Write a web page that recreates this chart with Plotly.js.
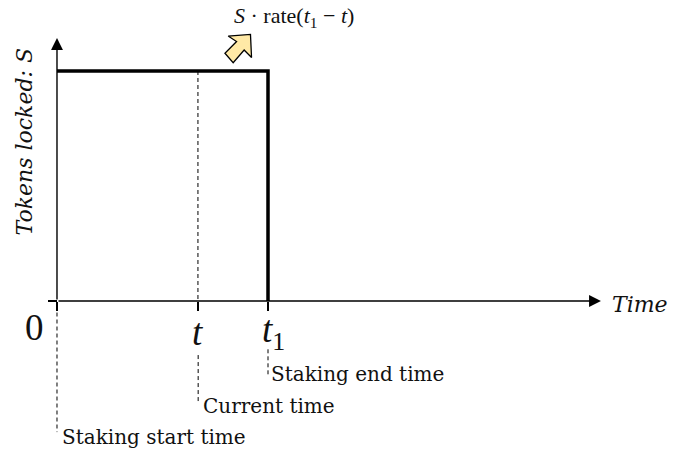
<!DOCTYPE html>
<html>
<head>
<meta charset="utf-8">
<script src="https://cdn.plot.ly/plotly-3.0.1.min.js"></script>
<style>html,body{margin:0;padding:0;background:#fff}</style>
</head>
<body>
<div id="plot" style="width:686px;height:449px"></div>
<script>
// time axis: t1 = 1, tokens axis: S = 1
var tCurrent = 0.668;
var tEnd = 1;
var stakeX = [0, tEnd, tEnd];
var stakeY = [1, 1, 0];
var tickVals = [0, tCurrent, tEnd];
var currentX = [tCurrent, tCurrent];
var currentY = [1, 0];
var leaderStartX = [0, 0];
var leaderStartY = [-0.05, -0.57];
var leaderCurrentX = [tCurrent + 0.001, tCurrent + 0.001];
var leaderCurrentY = [-0.235, -0.44];
var leaderEndX = [tEnd, tEnd];
var leaderEndY = [-0.21, -0.32];
var growX = [0.811, 0.917, 0.922, 0.887, 0.835, 0.796, 0.851];
var growY = [1.152, 1.159, 1.059, 1.091, 1.036, 1.077, 1.128];

var serif = 'DejaVu Serif';
var mathFont = 'Liberation Serif';

function leader(x, y, dash, width) {
  return {
    x: x, y: y, type: 'scatter', mode: 'lines', cliponaxis: false,
    hoverinfo: 'skip',
    line: {color: '#000', width: width, dash: dash}
  };
}

var traces = [
  leader(currentX, currentY, '4px,3px', 1),
  leader(leaderStartX, leaderStartY, '4px,3px', 1),
  leader(leaderCurrentX, leaderCurrentY, '4px,3px', 1),
  leader(leaderEndX, leaderEndY, '4px,3px', 1),
  leader(stakeX, stakeY, 'solid', 3.5),
  {
    x: growX.concat(growX[0]), y: growY.concat(growY[0]),
    type: 'scatter', mode: 'lines', fill: 'toself', fillcolor: '#ffe9a6',
    cliponaxis: false, hoverinfo: 'skip',
    line: {color: '#000', width: 1.3}
  }
];

function label(x, y, text, size, font, anchor, extra) {
  return Object.assign({
    x: x, y: y, xref: 'x', yref: 'y', text: text, showarrow: false,
    xanchor: anchor, yanchor: 'middle',
    font: {family: font, size: size, color: '#111'}
  }, extra || {});
}

function axisArrow(x, y) {
  return {
    x: x, y: y, ax: 0, ay: 0, axref: 'x', ayref: 'y', xref: 'x', yref: 'y',
    text: '', showarrow: true, arrowhead: 2, arrowsize: 1.7, arrowwidth: 1.4, arrowcolor: '#000'
  };
}

var annotations = [
  axisArrow(2.578, 0),
  axisArrow(0, 1.1435),
  label(-0.105, -0.115, '0', 37, mathFont, 'center'),
  label(tCurrent, -0.135, '<i>t</i>', 37, mathFont, 'center'),
  label(1.025, -0.135, '<i>t</i><sub>1</sub>', 37, mathFont, 'center'),
  label(2.763, -0.017, '<i>Time</i>', 22, serif, 'center'),
  label(1.0028, -0.317, 'Staking end time', 20, serif, 'left'),
  label(0.6806, -0.457, 'Current time', 20, serif, 'left'),
  label(0.0123, -0.591, 'Staking start time', 20, serif, 'left'),
  label(0.83, 1.235, '<i>S</i> · rate(<i>t</i><sub>1</sub> − <i>t</i>)', 22, mathFont, 'left'),
  label(-0.152, 0.693, '<i>Tokens locked: S</i>', 22, serif, 'center', {textangle: -90})
];

var layout = {
  width: 686,
  height: 449,
  margin: {l: 0, r: 0, t: 0, b: 0},
  paper_bgcolor: '#fff',
  plot_bgcolor: '#fff',
  showlegend: false,
  xaxis: {
    range: [-0.2701, 2.981], anchor: 'free', position: 0.3296,
    tickmode: 'array', tickvals: tickVals, showticklabels: false,
    ticks: 'outside', ticklen: 9, tickwidth: 1.3, tickcolor: '#000',
    showgrid: false, zeroline: false, showline: false, fixedrange: true
  },
  yaxis: {
    range: [-0.6435, 1.3087], anchor: 'free', position: 0.0831,
    tickmode: 'array', tickvals: [0], showticklabels: false,
    ticks: 'outside', ticklen: 9, tickwidth: 1.3, tickcolor: '#000',
    showgrid: false, zeroline: false, showline: false, fixedrange: true
  },
  annotations: annotations
};

Plotly.newPlot('plot', traces, layout, {displayModeBar: false, staticPlot: true});
</script>
</body>
</html>
